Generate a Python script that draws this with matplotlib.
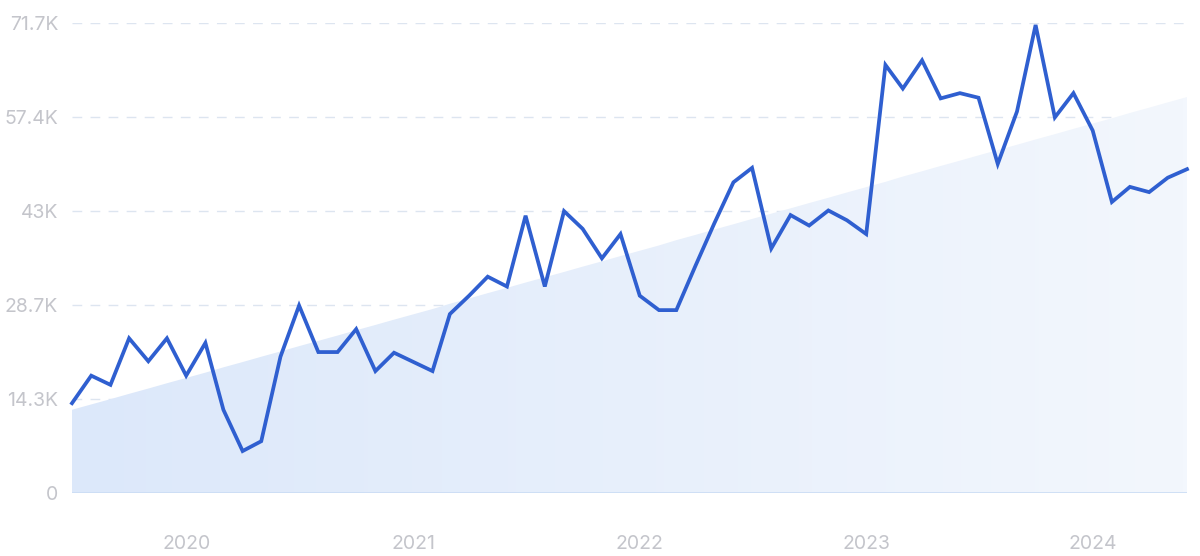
import numpy as np
import pandas as pd
import matplotlib
matplotlib.use("Agg")
import matplotlib.pyplot as plt
import matplotlib.dates as mdates
from matplotlib.colors import LinearSegmentedColormap

### Data (monthly, Jul 2019 - Jun 2024), values in thousands ###
months = pd.date_range("2019-07-01", periods=60, freq="MS")
values = [
    13.7, 17.9, 16.5, 23.6, 20.1, 23.6, 17.9, 22.9, 12.7, 6.4, 7.9, 20.8,
    28.6, 21.5, 21.5, 25.0, 18.6, 21.4, 20.0, 18.6, 27.3, 30.1, 33.0, 31.5,
    42.3, 31.5, 43.0, 40.3, 35.8, 39.5, 30.1, 27.9, 27.9, 34.7, 41.1, 47.4,
    49.6, 37.3, 42.4, 40.8, 43.1, 41.6, 39.5, 65.3, 61.7, 66.0, 60.2, 61.0,
    60.3, 50.2, 58.2, 71.4, 57.3, 61.0, 55.3, 44.4, 46.7, 45.9, 48.1, 49.4,
]
trend_start, trend_end = 12.7, 60.4
yticks = [0, 14.3, 28.7, 43.0, 57.4, 71.7]
ytick_labels = ["0", "14.3K", "28.7K", "43K", "57.4K", "71.7K"]
years = [2020, 2021, 2022, 2023, 2024]

### Style ###
line_color = "#2f5fd0"
text_color = "#c4c5cb"
grid_color = "#dde5f0"
plt.rcParams["font.family"] = ["Inter", "DejaVu Sans"]

fig = plt.figure(figsize=(12, 5.56), dpi=100)
ax = fig.add_axes([72 / 1200, 63 / 556, 1115 / 1200, 470 / 556])

x = mdates.date2num(months)
ax.set_xlim(x[0], x[-1])
ax.set_ylim(0, 71.7)

# trend area with a left-to-right fading gradient
trend = np.linspace(trend_start, trend_end, len(x))
poly = ax.fill_between(x, 0, trend, color="none", lw=0)
cmap = LinearSegmentedColormap.from_list("fade", ["#dce8fa", "#f3f7fd"])
grad = np.linspace(0, 1, 256).reshape(1, -1)
img = ax.imshow(grad, cmap=cmap, aspect="auto", extent=[x[0], x[-1], 0, 71.7],
                origin="lower", zorder=1)
img.set_clip_path(poly.get_paths()[0], transform=ax.transData)

# grid lines
for t in yticks[1:]:
    ax.axhline(t, color=grid_color, lw=1, dashes=(7, 6), zorder=0.5)
ax.axhline(0, color="#cadcf4", lw=1.2, zorder=2)

ax.plot(x, values, color=line_color, lw=2.7, zorder=3, clip_on=False,
        solid_joinstyle="miter")

for s in ax.spines.values():
    s.set_visible(False)

ax.set_yticks(yticks)
ax.set_yticklabels(ytick_labels)
ax.set_xticks([mdates.date2num(pd.Timestamp(f"{y}-01-01")) for y in years])
ax.set_xticklabels([str(y) for y in years])
ax.tick_params(axis="both", length=0, colors=text_color, labelsize=14)
ax.tick_params(axis="y", pad=10)
ax.tick_params(axis="x", pad=30)

fig.savefig("out.png", dpi=100, facecolor="white")
